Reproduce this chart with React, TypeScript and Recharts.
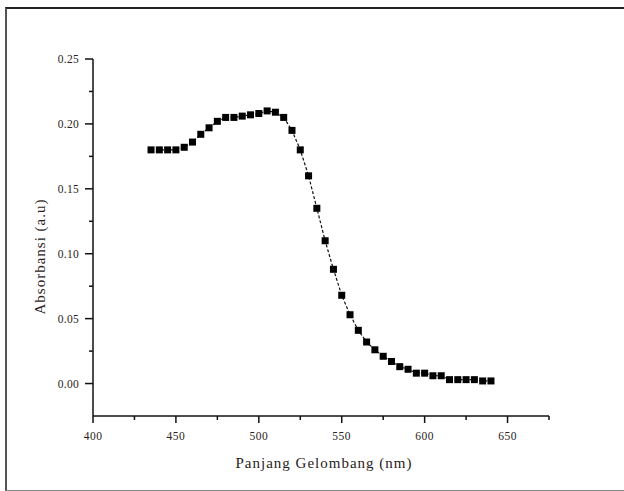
import React from "react";
import { LineChart, Line, XAxis, YAxis, Label } from "recharts";

// wavelength (nm) and absorbance
const wavelengths = [
  435, 440, 445, 450, 455, 460, 465, 470, 475, 480, 485, 490, 495, 500, 505,
  510, 515, 520, 525, 530, 535, 540, 545, 550, 555, 560, 565, 570, 575, 580,
  585, 590, 595, 600, 605, 610, 615, 620, 625, 630, 635, 640,
];
const absorbance = [
  0.18, 0.18, 0.18, 0.18, 0.182, 0.186, 0.192, 0.197, 0.202, 0.205, 0.205,
  0.206, 0.207, 0.208, 0.21, 0.209, 0.205, 0.195, 0.18, 0.16, 0.135, 0.11,
  0.088, 0.068, 0.053, 0.041, 0.032, 0.026, 0.021, 0.017, 0.013, 0.011, 0.008,
  0.008, 0.006, 0.006, 0.003, 0.003, 0.003, 0.003, 0.002, 0.002,
];
const xTicks = [400, 425, 450, 475, 500, 525, 550, 575, 600, 625, 650, 675];
const yTicks = [0, 0.025, 0.05, 0.075, 0.1, 0.125, 0.15, 0.175, 0.2, 0.225, 0.25];

const data = wavelengths.map((w, i) => ({ w, a: absorbance[i] }));

const FONT = "'Liberation Serif', 'Times New Roman', serif";
const TEXT = "#2a2220";

const XTick = (props: any) => {
  const { x, y, payload } = props;
  const major = payload.value % 50 === 0;
  return (
    <g>
      <line x1={x} y1={y} x2={x} y2={y + (major ? 7 : 4)} stroke="#111" strokeWidth={1.5} />
      {major && (
        <text x={x} y={y + 24} textAnchor="middle" fontSize={11.5} fontFamily={FONT} fill={TEXT} letterSpacing={0.5}>
          {payload.value}
        </text>
      )}
    </g>
  );
};

const YTick = (props: any) => {
  const { x, y, payload } = props;
  const major = Math.round(payload.value * 1000) % 50 === 0;
  return (
    <g>
      <line x1={x} y1={y} x2={x - (major ? 8 : 4)} y2={y} stroke="#111" strokeWidth={1.5} />
      {major && (
        <text x={x - 14} y={y + 4} textAnchor="end" fontSize={11.5} fontFamily={FONT} fill={TEXT} letterSpacing={0.3}>
          {payload.value.toFixed(2)}
        </text>
      )}
    </g>
  );
};

const XLabel = (props: any) => {
  const { viewBox } = props;
  return (
    <text x={viewBox.x + viewBox.width / 2 + 3} y={viewBox.y + 52} textAnchor="middle" fontSize={15} fontFamily={FONT} fill={TEXT} letterSpacing={1}>
      Panjang Gelombang (nm)
    </text>
  );
};

const YLabel = (props: any) => {
  const { viewBox } = props;
  const cx = viewBox.x + 45;
  const cy = viewBox.y + viewBox.height / 2 + 19;
  return (
    <text x={0} y={0} transform={`translate(${cx},${cy}) rotate(-90)`} textAnchor="middle" fontSize={15} fontFamily={FONT} fill={TEXT} letterSpacing={1}>
      Absorbansi (a.u)
    </text>
  );
};

const SquareDot = (props: any) => {
  const { cx, cy, index } = props;
  return <rect key={index} x={cx - 3.5} y={cy - 3.5} width={7} height={7} fill="#000" />;
};

export default function App() {
  return (
    <div style={{ position: "absolute", left: 0, top: 0, width: 624, height: 491, background: "#fff", overflow: "hidden" }}>
      <div
        style={{
          position: "absolute",
          left: 5,
          top: 7,
          width: 619,
          height: 484,
          boxSizing: "border-box",
          borderTop: "2px solid #222",
          borderLeft: "2px solid #555",
          borderBottom: "1px solid #888",
        }}
      />
      <div style={{ position: "absolute", left: 0, top: 0 }}>
        <LineChart width={624} height={491} data={data} margin={{ top: 59, right: 75, left: 0, bottom: 0 }}>
          <XAxis
            dataKey="w"
            type="number"
            domain={[400, 675]}
            ticks={xTicks}
            interval={0}
            height={75}
            tickSize={0}
            tickMargin={0}
            tick={<XTick />}
            axisLine={{ stroke: "#111", strokeWidth: 1.5 }}
            tickLine={false}
          >
            <Label content={<XLabel />} />
          </XAxis>
          <YAxis
            dataKey="a"
            type="number"
            domain={[-0.025, 0.25]}
            ticks={yTicks}
            interval={0}
            width={93}
            tickSize={0}
            tickMargin={0}
            tick={<YTick />}
            axisLine={{ stroke: "#111", strokeWidth: 1.5 }}
            tickLine={false}
            allowDataOverflow
          >
            <Label content={<YLabel />} />
          </YAxis>
          <Line
            type="linear"
            dataKey="a"
            stroke="#111"
            strokeWidth={1.2}
            strokeDasharray="3 2"
            dot={<SquareDot />}
            activeDot={false}
            isAnimationActive={false}
          />
        </LineChart>
      </div>
    </div>
  );
}
